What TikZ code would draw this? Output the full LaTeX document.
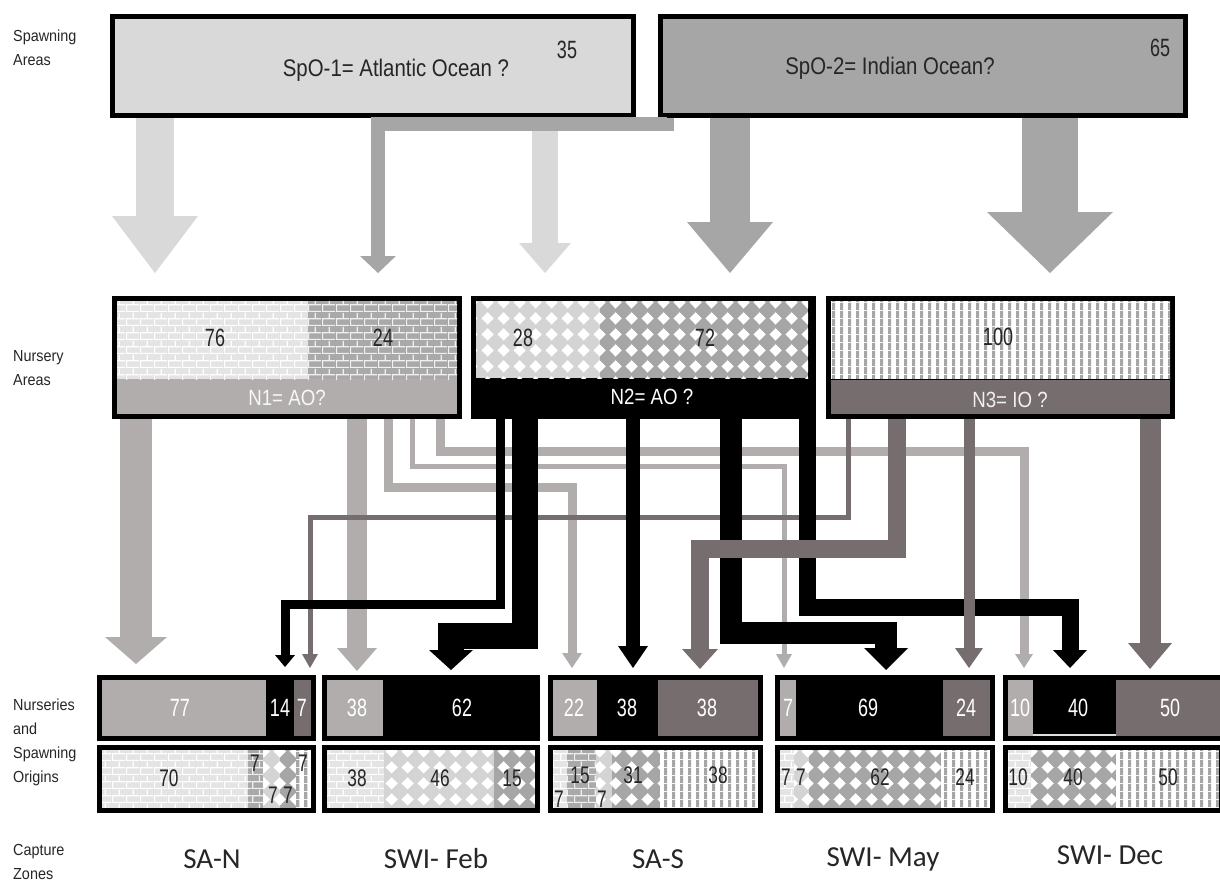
\documentclass[tikz,border=0pt]{standalone}
\usepackage{fontspec}
\setmainfont{Liberation Sans}
\newfontfamily\narfont{Liberation Sans}[FakeStretch=0.85]
\newfontfamily\cndfont{Liberation Sans}[FakeStretch=0.72]
\newfontfamily\labfont{Liberation Sans}[FakeStretch=0.9]
\newfontfamily\calfont{Carlito}
\usetikzlibrary{arrows.meta,patterns}

\pgfdeclarepatternformonly{pbrick}{\pgfpoint{0pt}{0pt}}{\pgfpoint{14pt}{14pt}}{\pgfpoint{14pt}{14pt}}{%
 \pgfsetlinewidth{1.3pt}%
 \pgfpathmoveto{\pgfpoint{0pt}{0.65pt}}\pgfpathlineto{\pgfpoint{14pt}{0.65pt}}%
 \pgfpathmoveto{\pgfpoint{0pt}{7.65pt}}\pgfpathlineto{\pgfpoint{14pt}{7.65pt}}%
 \pgfpathmoveto{\pgfpoint{0.65pt}{0pt}}\pgfpathlineto{\pgfpoint{0.65pt}{7.65pt}}%
 \pgfpathmoveto{\pgfpoint{7.65pt}{7.65pt}}\pgfpathlineto{\pgfpoint{7.65pt}{14pt}}%
 \pgfusepath{stroke}}
\pgfdeclarepatternformonly{pdiam}{\pgfpoint{0pt}{0pt}}{\pgfpoint{16pt}{16pt}}{\pgfpoint{16pt}{16pt}}{%
 \pgfpathmoveto{\pgfpoint{8pt}{1.5pt}}\pgfpathlineto{\pgfpoint{14.5pt}{8pt}}%
 \pgfpathlineto{\pgfpoint{8pt}{14.5pt}}\pgfpathlineto{\pgfpoint{1.5pt}{8pt}}\pgfpathclose
 \pgfusepath{fill}}
\pgfdeclarepatternformonly{pstripe}{\pgfpoint{0pt}{0pt}}{\pgfpoint{8pt}{8pt}}{\pgfpoint{8pt}{8pt}}{%
 \pgfpathrectangle{\pgfpoint{0pt}{0pt}}{\pgfpoint{3.5pt}{8pt}}\pgfusepath{fill}}

\definecolor{sA}{HTML}{D9D9D9}
\definecolor{sB}{HTML}{A6A6A6}
\definecolor{nA}{HTML}{B1ADAD}
\definecolor{nC}{HTML}{766E6E}
\definecolor{lbC}{HTML}{E4E4E4}
\definecolor{dbC}{HTML}{A9A9A9}
\definecolor{ldC}{HTML}{D4D4D4}
\definecolor{ddC}{HTML}{A6A6A6}
\definecolor{stC}{HTML}{A6A6A6}
\definecolor{labC}{HTML}{262626}

\tikzset{
 lbrick/.style={fill=lbC, postaction={pattern=pbrick, pattern color=white}},
 dbrick/.style={fill=dbC, postaction={pattern=pbrick, pattern color=white!88!gray}},
 ldiam/.style={fill=ldC, postaction={pattern=pdiam, pattern color=white}},
 ddiam/.style={fill=ddC, postaction={pattern=pdiam, pattern color=white}},
 stripes/.style={fill=white, postaction={pattern=pstripe, pattern color=stC}},
 frame/.style={draw=black, line width=5pt, inner sep=0pt},
 ah/.style n args={2}{-{Triangle[width=#1pt,length=#2pt,line width=0pt]}},
 lab/.style={font=\labfont\fontsize{16}{24}\selectfont, text=labC, inner sep=0pt, anchor=west, align=left},
 capzone/.style={font=\calfont\fontsize{29}{29}\selectfont, text=labC, inner sep=0pt},
 big/.style={font=\narfont\fontsize{24}{24}\selectfont, text=labC, inner sep=0pt},
 num/.style={font=\cndfont\fontsize{25}{25}\selectfont, text=labC, inner sep=0pt},
 band/.style={font=\narfont\fontsize{22}{22}\selectfont, inner sep=0pt},
 wnum/.style={font=\cndfont\fontsize{25}{25}\selectfont, text=white, inner sep=0pt},
 bnum/.style={font=\cndfont\fontsize{24}{24}\selectfont, text=labC, inner sep=0pt},
}

\begin{document}
\begin{tikzpicture}[x=1pt,y=-1pt]
\useasboundingbox (0,0) rectangle (1220,886);
\clip (0,0) rectangle (1220,886);
\fill[white] (0,0) rectangle (1220,886);

% ---------- spawning areas ----------
\node[frame, fill=sA, minimum width=521pt, minimum height=99pt] (SpO1) at (373,66) {};
\node[frame, fill=sB, minimum width=525pt, minimum height=99pt] (SpO2) at (923,66) {};
\node[big] (tS1) at (396,70) {SpO-1= Atlantic Ocean ?};
\node[num] (tS1n) at (567,50) {35};
\node[big] (tS2) at (890,68) {SpO-2= Indian Ocean?};
\node[num] (tS2n) at (1160,48) {65};

% ---------- nursery areas ----------
\node[frame, fill=nA, minimum width=345pt, minimum height=118pt] (N1) at (287,357.5) {};
\node[frame, fill=black, minimum width=340pt, minimum height=118pt] (N2) at (643.5,357.5) {};
\node[frame, fill=nC, minimum width=344pt, minimum height=118pt] (N3) at (1000.5,357.5) {};
\fill[lbrick] (117,301) rectangle (308,379);
\fill[dbrick] (308,301) rectangle (457,379);
\fill[ldiam] (476,301) rectangle (600,378);
\fill[ddiam] (600,301) rectangle (808,378);
\fill[stripes] (831,301) rectangle (1170,379);
\draw[black, line width=1pt] (831,379) -- (1170,379);
\node[num] (t76) at (215,338) {76};
\node[num] (t24) at (383,338) {24};
\node[num] (t28) at (523,338) {28};
\node[num] (t72) at (705,338) {72};
\node[num] (t100) at (998,337) {100};
\node[band, text=white!90!nA] (tN1) at (287,398) {N1= AO?};
\node[band, text=white] (tN2) at (652,397) {N2= AO ?};
\node[band, text=white!90!nC] (tN3) at (1010,400) {N3= IO ?};

% ---------- bottom: nurseries row ----------
\node[frame, fill=black, minimum width=214pt, minimum height=61pt] (SAN) at (206.5,708) {};
\node[frame, fill=black, minimum width=213pt, minimum height=61pt] (SWIF) at (431,708) {};
\node[frame, fill=black, minimum width=210pt, minimum height=61pt] (SAS) at (655.5,708) {};
\node[frame, fill=black, minimum width=215pt, minimum height=61pt] (SWIM) at (885,708) {};
\node[frame, fill=black, minimum width=216pt, minimum height=61pt] (SWID) at (1113.5,708) {};
\fill[nA] (102,680) rectangle (266,736);
\fill[nC] (294,680) rectangle (311,736);
\fill[nA] (327,680) rectangle (383,736);
\fill[nA] (553,680) rectangle (597,736);
\fill[nC] (658,680) rectangle (758,736);
\fill[nA] (780,680) rectangle (796,736);
\fill[nC] (943,680) rectangle (990,736);
\fill[nA] (1008,680) rectangle (1033,736);
\fill[nC] (1116,680) rectangle (1224,736);
\draw[white!75!gray, line width=1.5pt] (1033,735) -- (1116,735);
\node[wnum] at (180,708) {77};
\node[wnum] at (280,708) {14};
\node[wnum] at (302,708) {7};
\node[wnum] at (357,708) {38};
\node[wnum] at (462,708) {62};
\node[wnum] at (574,708) {22};
\node[wnum] at (627,708) {38};
\node[wnum] at (707,708) {38};
\node[wnum] at (788,708) {7};
\node[wnum] at (868,708) {69};
\node[wnum] at (966,708) {24};
\node[wnum] at (1020,708) {10};
\node[wnum] at (1078,708) {40};
\node[wnum] at (1170,708) {50};

% ---------- bottom: spawning origins row ----------
\fill[lbrick] (102,750) rectangle (248,808);
\fill[dbrick] (248,750) rectangle (263,808);
\fill[ldiam] (263,750) rectangle (280,808);
\fill[ddiam] (280,750) rectangle (296,808);
\fill[stripes] (296,750) rectangle (311,808);
\fill[lbrick] (327,750) rectangle (384,808);
\fill[ldiam] (384,750) rectangle (494,808);
\fill[ddiam] (494,750) rectangle (535,808);
\fill[lbrick] (553,750) rectangle (567,808);
\fill[dbrick] (567,750) rectangle (596,808);
\fill[ldiam] (596,750) rectangle (612,808);
\fill[ddiam] (612,750) rectangle (660,808);
\fill[stripes] (660,750) rectangle (758,808);
\fill[lbrick] (780,750) rectangle (794,808);
\fill[ldiam] (794,750) rectangle (809,808);
\fill[ddiam] (809,750) rectangle (941,808);
\fill[stripes] (941,750) rectangle (990,808);
\fill[lbrick] (1008,750) rectangle (1031,808);
\fill[ddiam] (1031,750) rectangle (1116,808);
\fill[stripes] (1116,750) rectangle (1224,808);
\node[frame, minimum width=214pt, minimum height=63pt] (SANo) at (206.5,779) {};
\node[frame, minimum width=213pt, minimum height=63pt] (SWIFo) at (431,779) {};
\node[frame, minimum width=210pt, minimum height=63pt] (SASo) at (655.5,779) {};
\node[frame, minimum width=215pt, minimum height=63pt] (SWIMo) at (885,779) {};
\node[frame, minimum width=216pt, minimum height=63pt] (SWIDo) at (1113.5,779) {};
\node[bnum] at (169,778) {70};
\node[bnum] at (255,763) {7};
\node[bnum] at (273,795) {7};
\node[bnum] at (288,795) {7};
\node[bnum] at (303,763) {7};
\node[bnum] at (357,778) {38};
\node[bnum] at (440,778) {46};
\node[bnum] at (512,778) {15};
\node[bnum] at (559,799) {7};
\node[bnum] at (580,775) {15};
\node[bnum] at (602,799) {7};
\node[bnum] at (633,775) {31};
\node[bnum] at (718,775) {38};
\node[bnum] at (786,777) {7};
\node[bnum] at (801,777) {7};
\node[bnum] at (880,777) {62};
\node[bnum] at (965,777) {24};
\node[bnum] at (1018,777) {10};
\node[bnum] at (1073,777) {40};
\node[bnum] at (1168,777) {50};

% ---------- arrows: spawning -> nursery ----------
\draw[sA, line width=38pt, ah={86}{57}, shorten >=23pt] (SpO1.south -| 155,0) -- (N1.north -| 155,0);
\draw[sA, line width=26pt, ah={52}{30}, shorten >=23pt] (SpO1.south -| 545,0) -- (N2.north -| 545,0);
\draw[sB, line width=14pt, ah={36}{17}, shorten >=23pt] (SpO2.south -| 667,0) |- (378,124) -- (N1.north -| 378,0);
\draw[sB, line width=40pt, ah={86}{51}, shorten >=23pt] (SpO2.south -| 730,0) -- (N2.north -| 730,0);
\draw[sB, line width=56pt, ah={126}{61}, shorten >=23pt] (SpO2.south -| 1050,0) -- (N3.north -| 1050,0);

% ---------- arrows: nursery -> capture zones ----------
% N1
\draw[nA, line width=32pt, ah={62}{27}, shorten >=11pt] (N1.south -| 136,0) -- (SAN.north -| 136,0);
\draw[nA, line width=20pt, ah={40}{23}, shorten >=4pt] (N1.south -| 357,0) -- (SWIF.north -| 357,0);
\draw[nA, line width=9pt, ah={20}{15}, shorten >=7pt] (N1.south -| 388,0) |- (572,487) -- (SAS.north -| 572,0);
\draw[nA, line width=5pt, ah={16}{14}, shorten >=7pt] (N1.south -| 412,0) |- (784,466) -- (SWIM.north -| 784,0);
\draw[nA, line width=9pt, ah={18}{14}, shorten >=7pt] (N1.south -| 440,0) |- (1024,451) -- (SWID.north -| 1024,0);
% N3 thin
\draw[nC, line width=5pt, ah={16}{14}, shorten >=7pt] (N3.south -| 848,0) |- (310,517) -- (SAN.north -| 310,0);
% N2
\draw[black, line width=9pt, ah={20}{12}, shorten >=8pt] (N2.south -| 500,0) |- (285,604) -- (SAN.north -| 285,0);
\draw[black, line width=26pt, ah={44}{20}, shorten >=5pt] (N2.south -| 525,0) |- (451,636) -- (SWIF.north -| 451,0);
\draw[black, line width=14pt, ah={30}{22}, shorten >=7pt] (N2.south -| 633,0) -- (SAS.north -| 633,0);
\draw[black, line width=22pt, ah={44}{22}, shorten >=5pt] (N2.south -| 731,0) |- (886,633) -- (SWIM.north -| 886,0);
\draw[black, line width=17pt, ah={34}{18}, shorten >=7pt] (N2.south -| 807,0) |- (1070,607) -- (SWID.north -| 1070,0);
% N3
\draw[nC, line width=18pt, ah={36}{20}, shorten >=6pt] (N3.south -| 897,0) |- (700,549) -- (SAS.north -| 700,0);
\draw[nC, line width=11pt, ah={28}{20}, shorten >=7pt] (N3.south -| 969,0) -- (SWIM.north -| 969,0);
\draw[nC, line width=21pt, ah={44}{26}, shorten >=6pt] (N3.south -| 1150,0) -- (SWID.north -| 1150,0);

% ---------- labels ----------
\node[lab] (lSp) at (13,48) {Spawning\\Areas};
\node[lab] (lNu) at (13,368) {Nursery\\Areas};
\node[lab] (lNs) at (13,742) {Nurseries\\and\\Spawning\\Origins};
\node[lab] (lCz) at (13,862) {Capture\\Zones};
\node[capzone] (cz1) at (212,859) {SA-N};
\node[capzone] (cz2) at (436,859) {SWI- Feb};
\node[capzone] (cz3) at (658,859) {SA-S};
\node[capzone] (cz4) at (883,859) {SWI- May};
\node[capzone] (cz5) at (1110,855) {SWI- Dec};
\end{tikzpicture}
\end{document}
